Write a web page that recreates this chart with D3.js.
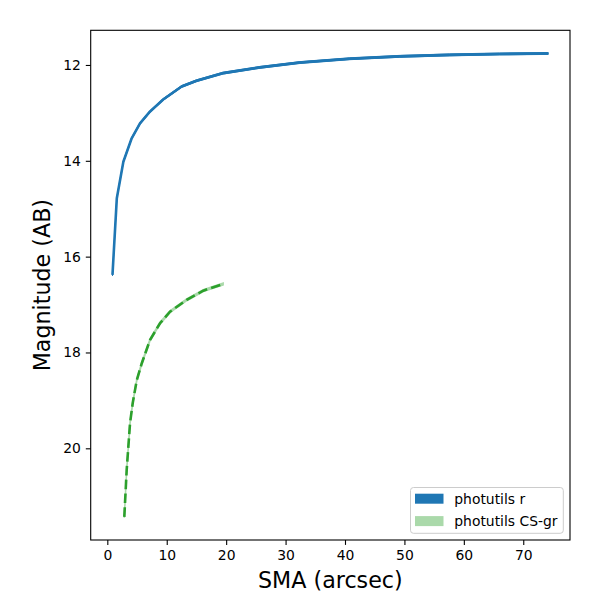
<!DOCTYPE html>
<html>
<head>
<meta charset="utf-8">
<script src="https://cdn.jsdelivr.net/npm/d3@7"></script>
<style>
  body { margin: 0; background: #fff; }
  text { font-family: "DejaVu Sans", sans-serif; }
</style>
</head>
<body>
<svg id="chart" width="600" height="600"></svg>
<script>
// Data
const rSma = [0.87, 1.6, 2.7, 4.1, 5.5, 7.2, 9.4, 12.5, 15.0, 19.5, 25.7, 32.4, 40.8, 49.2, 57.6, 66.0, 74.2];
const rMag = [16.38, 14.78, 14.02, 13.53, 13.22, 12.97, 12.72, 12.45, 12.33, 12.17, 12.05, 11.95, 11.87, 11.82, 11.79, 11.77, 11.76];
const gSma = [2.86, 3.26, 3.82, 4.27, 4.95, 5.79, 7.18, 8.87, 10.55, 13.36, 16.15, 19.5];
const gMag = [21.43, 20.45, 19.48, 19.06, 18.58, 18.23, 17.74, 17.39, 17.15, 16.9, 16.71, 16.57];
const xTicks = [0, 10, 20, 30, 40, 50, 60, 70];
const yTicks = [12, 14, 16, 18, 20];
const seriesNames = ["photutils r", "photutils CS-gr"];

const svg = d3.select("#chart");
const L = 90.7, R = 570, T = 30.3, B = 540;

const allX = rSma.concat(gSma), allY = rMag.concat(gMag);
const xMin = d3.min(allX), xMax = d3.max(allX);
const yMin = d3.min(allY), yMax = d3.max(allY);
const xm = (xMax - xMin) * 0.05, ym = (yMax - yMin) * 0.05;

const x = d3.scaleLinear().domain([xMin - xm, xMax + xm]).range([L, R]);
const y = d3.scaleLinear().domain([yMin - ym, yMax + ym]).range([T, B]);

const blue = "#1f77b4", green = "#2ca02c", lightGreen = "#aad9aa";

const rData = rSma.map((s, i) => ({ s, m: rMag[i] }));
const gData = gSma.map((s, i) => ({ s, m: gMag[i] }));

const line = d3.line().x(d => x(d.s)).y(d => y(d.m));
const band = d3.area().x(d => x(d.s)).y0(d => y(d.m - 0.02)).y1(d => y(d.m + 0.02));

const plot = svg.append("g");
// bands (fill_between)
plot.append("path").datum(rData).attr("d", band)
  .attr("fill", blue).attr("stroke", blue).attr("stroke-width", 1);
plot.append("path").datum(gData).attr("d", band)
  .attr("fill", lightGreen).attr("stroke", lightGreen).attr("stroke-width", 1.5);
// lines
plot.append("path").datum(rData).attr("d", line)
  .attr("fill", "none").attr("stroke", blue).attr("stroke-width", 2.6)
  .attr("stroke-linejoin", "round");
plot.append("path").datum(gData).attr("d", line)
  .attr("fill", "none").attr("stroke", green).attr("stroke-width", 2.6)
  .attr("stroke-dasharray", "9.6,4.2");

// Axes
const xAxis = svg.append("g").attr("transform", `translate(0,${B})`)
  .call(d3.axisBottom(x).tickValues(xTicks).tickSize(4.9).tickPadding(4.9).tickFormat(d3.format("d")));
const yAxis = svg.append("g").attr("transform", `translate(${L},0)`)
  .call(d3.axisLeft(y).tickValues(yTicks).tickSize(4.9).tickPadding(4.9).tickFormat(d3.format("d")));
[xAxis, yAxis].forEach(a => {
  a.select(".domain").remove();
  a.selectAll(".tick line").attr("stroke", "#000").attr("stroke-width", 1.1);
  a.selectAll(".tick text").attr("font-size", 13.9).attr("fill", "#000")
    .attr("font-family", "DejaVu Sans, sans-serif");
});

// Frame
svg.append("rect").attr("x", L).attr("y", T).attr("width", R - L).attr("height", B - T)
  .attr("fill", "none").attr("stroke", "#000").attr("stroke-width", 1.1);

// Axis labels
svg.append("text").attr("x", (L + R) / 2).attr("y", 588).attr("text-anchor", "middle")
  .attr("font-size", 22.2).text("SMA (arcsec)");
svg.append("text").attr("transform", `translate(50,${(T + B) / 2}) rotate(-90)`)
  .attr("text-anchor", "middle").attr("font-size", 22.2).text("Magnitude (AB)");

// Legend
const lg = svg.append("g");
lg.append("rect").attr("x", 410.5).attr("y", 487.5).attr("width", 152.8).attr("height", 45.8)
  .attr("rx", 3).attr("fill", "#fff").attr("fill-opacity", 0.8)
  .attr("stroke", "#cccccc").attr("stroke-width", 1);
const legColors = [blue, lightGreen];
seriesNames.forEach((name, i) => {
  const cy = 498.7 + i * 22.4;
  lg.append("rect").attr("x", 415).attr("y", cy - 5).attr("width", 28.5).attr("height", 10)
    .attr("fill", legColors[i]);
  lg.append("text").attr("x", 454.3).attr("y", cy).attr("dy", "0.36em")
    .attr("font-size", 13.9).attr("fill", "#000").text(name);
});
</script>
</body>
</html>
